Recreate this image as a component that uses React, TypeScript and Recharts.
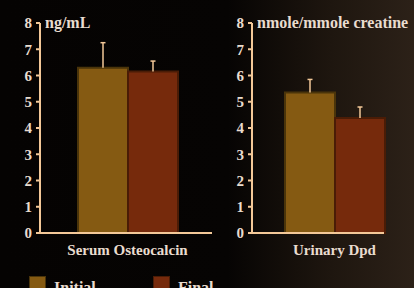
import React from 'react'
import { BarChart, Bar, XAxis, YAxis } from 'recharts'

const SERIES = ['Initial', 'Final']
const SERUM_VALUES = [6.3, 6.15]
const SERUM_ERRORS = [0.95, 0.4]
const URINE_VALUES = [5.35, 4.38]
const URINE_ERRORS = [0.5, 0.42]
const Y_TICKS = [0, 1, 2, 3, 4, 5, 6, 7, 8]

const FILLS = ['#855a12', '#762a0c']
const STROKES = ['#4a340a', '#4a1c06']
const AXIS = '#f3c898'
const TEXT = '#e9dccf'
const FONT = '"Liberation Serif", serif'

function rows(category: string, values: number[], errors: number[]) {
    return [{
        name: category,
        initial: values[0],
        final: values[1],
        initialErr: errors[0],
        finalErr: errors[1]
    }]
}

// upper-only error whisker, drawn as a stacked segment above each bar
function Whisker(props: any) {
    const { x, y, width, height } = props
    const cx = x + width / 2
    return (
        <g>
            <line x1={cx} y1={y} x2={cx} y2={y + height} stroke={AXIS} strokeWidth={1.5} />
            <line x1={cx - 2.5} y1={y} x2={cx + 2.5} y2={y} stroke={AXIS} strokeWidth={1.5} />
        </g>
    )
}

const tickStyle = { fontSize: 15, fontWeight: 700, fill: TEXT, fontFamily: FONT }

function Panel({ data, padLeft, padRight, width }: { data: any[], padLeft: number, padRight: number, width: number }) {
    return (
        <BarChart
            width={width}
            height={263}
            data={data}
            margin={{ top: 23, right: 2, bottom: 0, left: 0 }}
            barCategoryGap={0}
            barGap={0}
        >
            <XAxis
                dataKey="name"
                stroke={AXIS}
                strokeWidth={2}
                tickLine={false}
                tickSize={0}
                tickMargin={11}
                height={30}
                padding={{ left: padLeft, right: padRight }}
                tick={tickStyle}
            />
            <YAxis
                domain={[0, 8]}
                ticks={Y_TICKS}
                width={40}
                stroke={AXIS}
                strokeWidth={2}
                tickSize={4}
                tickMargin={4}
                tick={tickStyle}
                interval={0}
            />
            <Bar dataKey="initial" stackId="a" name={SERIES[0]} fill={FILLS[0]} stroke={STROKES[0]} strokeWidth={2} isAnimationActive={false} />
            <Bar dataKey="initialErr" stackId="a" shape={Whisker} isAnimationActive={false} />
            <Bar dataKey="final" stackId="b" name={SERIES[1]} fill={FILLS[1]} stroke={STROKES[1]} strokeWidth={2} isAnimationActive={false} />
            <Bar dataKey="finalErr" stackId="b" shape={Whisker} isAnimationActive={false} />
        </BarChart>
    )
}

const titleStyle: React.CSSProperties = {
    position: 'absolute',
    fontFamily: FONT,
    fontWeight: 700,
    fontSize: 16,
    color: TEXT,
    lineHeight: '16px',
    whiteSpace: 'nowrap'
}

export default function App() {
    return (
        <div
            style={{
                position: 'fixed',
                top: 0,
                left: 0,
                width: 414,
                height: 288,
                overflow: 'hidden',
                background: 'linear-gradient(to right, #050302 0%, #060403 55%, #1e160f 80%, #2c2118 100%)'
            }}
        >
            <div style={{ position: 'absolute', left: 0, top: 0 }}>
                <Panel data={rows('Serum Osteocalcin', SERUM_VALUES, SERUM_ERRORS)} padLeft={38} padRight={35} width={214} />
            </div>
            <div style={{ position: 'absolute', left: 212, top: 0 }}>
                <Panel data={rows('Urinary Dpd', URINE_VALUES, URINE_ERRORS)} padLeft={33} padRight={0} width={174} />
            </div>
            <div style={{ ...titleStyle, left: 45, top: 15 }}>ng/mL</div>
            <div style={{ ...titleStyle, left: 257, top: 15 }}>nmole/mmole creatine</div>
            {SERIES.map((s, i) => (
                <div key={s} style={{ position: 'absolute', left: i === 0 ? 29 : 153, top: 276, display: 'flex', alignItems: 'flex-start' }}>
                    <div style={{ width: 17, height: 17, background: FILLS[i], border: `1px solid ${STROKES[i]}`, boxSizing: 'border-box' }} />
                    <span style={{ ...titleStyle, position: 'static', marginLeft: 8, marginTop: 4, fontSize: 16 }}>{s}</span>
                </div>
            ))}
        </div>
    )
}
